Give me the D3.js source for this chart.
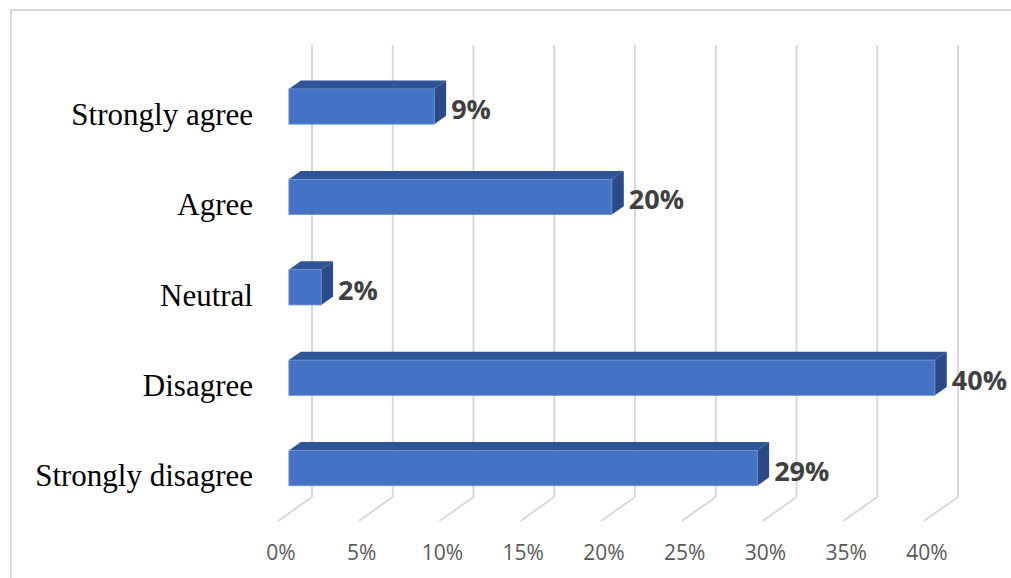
<!DOCTYPE html>
<html>
<head>
<meta charset="utf-8">
<script src="https://cdn.jsdelivr.net/npm/d3@7"></script>
<style>
  body { margin: 0; background: #fff; }
  svg { display: block; }
</style>
</head>
<body>
<div id="chart"></div>
<script>
const categories = ['Strongly agree', 'Agree', 'Neutral', 'Disagree', 'Strongly disagree'];
const values = [9, 20, 2, 40, 29];
const ticks = [0, 5, 10, 15, 20, 25, 30, 35, 40];

const width = 1011;
const height = 578;

// depth of the 3D box (back wall -> front edge of the floor)
const depth = { dx: -34, dy: 24 };
// bar sits between these fractions of the depth
const barBack = 0.33;
const barFront = 0.68;

const x = d3.scaleLinear()
  .domain([0, 40])
  .range([312, 958]);

const y = d3.scaleBand()
  .domain(categories)
  .range([45, 497])
  .paddingInner(0.61)
  .paddingOuter(0.305);

const svg = d3.select('#chart')
  .append('svg')
  .attr('width', width)
  .attr('height', height);

// outer frame, runs off the right and bottom edge
svg.append('rect')
  .attr('x', 11)
  .attr('y', 10)
  .attr('width', width + 20)
  .attr('height', height + 20)
  .style('fill', 'none')
  .style('stroke', '#d9d9d9')
  .style('stroke-width', 2);

// back wall grid lines + floor lines
const grid = svg.append('g');
grid.selectAll('.wall')
  .data(ticks)
  .enter().append('line')
  .attr('class', 'wall')
  .attr('x1', d => x(d))
  .attr('x2', d => x(d))
  .attr('y1', y.range()[0])
  .attr('y2', y.range()[1])
  .style('stroke', '#d9d9d9')
  .style('stroke-width', 2);

grid.selectAll('.floor')
  .data(ticks)
  .enter().append('line')
  .attr('class', 'floor')
  .attr('x1', d => x(d))
  .attr('x2', d => x(d) + depth.dx)
  .attr('y1', y.range()[1])
  .attr('y2', y.range()[1] + depth.dy)
  .style('stroke', '#d9d9d9')
  .style('stroke-width', 2);

// tick labels
svg.selectAll('.tick-label')
  .data(ticks)
  .enter().append('text')
  .attr('class', 'tick-label')
  .attr('x', d => x(d) + depth.dx + 3)
  .attr('y', 552)
  .attr('text-anchor', 'middle')
  .attr('dominant-baseline', 'central')
  .style('font-family', 'Open Sans, sans-serif')
  .style('font-size', '21px')
  .style('fill', '#595959')
  .text(d => d + '%');

// 3D bars
const fx = depth.dx * barFront, fy = depth.dy * barFront;
const bx = depth.dx * barBack, by = depth.dy * barBack;
const data = categories.map((c, i) => ({ cat: c, val: values[i] }));

const bars = svg.selectAll('.bar')
  .data(data)
  .enter().append('g')
  .attr('class', 'bar');

bars.append('path')
  .attr('d', d => {
    const x0 = x(0), x1 = x(d.val), t = y(d.cat);
    return `M${x0 + fx},${t + fy} L${x0 + bx},${t + by} L${x1 + bx},${t + by} L${x1 + fx},${t + fy} Z`;
  })
  .style('fill', '#2f5597');

bars.append('path')
  .attr('d', d => {
    const x1 = x(d.val), t = y(d.cat), b = t + y.bandwidth();
    return `M${x1 + fx},${t + fy} L${x1 + bx},${t + by} L${x1 + bx},${b + by} L${x1 + fx},${b + fy} Z`;
  })
  .style('fill', '#2b4a86');

bars.append('rect')
  .attr('x', x(0) + fx)
  .attr('y', d => y(d.cat) + fy)
  .attr('width', d => x(d.val) - x(0))
  .attr('height', y.bandwidth())
  .style('fill', '#4472c4')
  .style('stroke', '#6e92d4')
  .style('stroke-width', 0.8);

// value labels
bars.append('text')
  .attr('x', d => x(d.val) + bx + 5)
  .attr('y', d => y(d.cat) + fy + y.bandwidth() / 2 + 2)
  .attr('dominant-baseline', 'central')
  .style('font-family', 'Open Sans, sans-serif')
  .style('font-weight', 'bold')
  .style('font-size', '27px')
  .style('fill', '#404040')
  .text(d => d.val + '%');

// category labels on the front plane
svg.selectAll('.cat-label')
  .data(categories)
  .enter().append('text')
  .attr('class', 'cat-label')
  .attr('x', x(0) + depth.dx - 25)
  .attr('y', d => y(d) + y.bandwidth() / 2 + depth.dy)
  .attr('text-anchor', 'end')
  .attr('dominant-baseline', 'central')
  .style('font-family', 'Liberation Serif, serif')
  .style('font-size', '31px')
  .style('fill', '#000')
  .text(d => d);
</script>
</body>
</html>
